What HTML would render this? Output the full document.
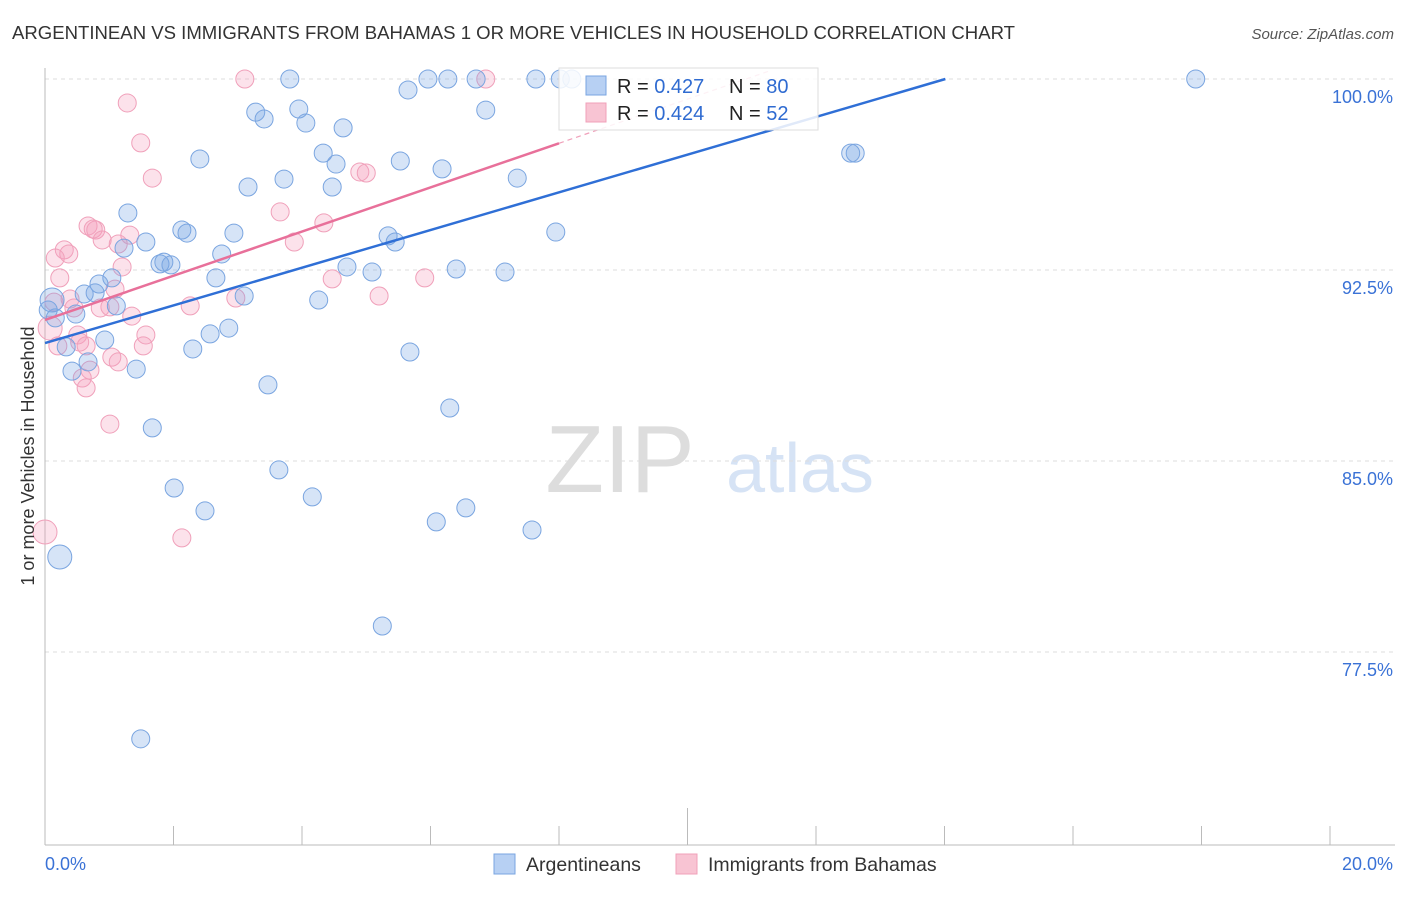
<!DOCTYPE html>
<html><head><meta charset="utf-8"><style>
body{margin:0;background:#fff;font-family:"Liberation Sans",sans-serif}
svg text{font-family:"Liberation Sans",sans-serif}
</style></head><body>
<svg id="c" width="1406" height="892" xmlns="http://www.w3.org/2000/svg">
<text x="12" y="39" font-size="18.5" textLength="1003" lengthAdjust="spacingAndGlyphs" fill="#333">ARGENTINEAN VS IMMIGRANTS FROM BAHAMAS 1 OR MORE VEHICLES IN HOUSEHOLD CORRELATION CHART</text>
<text x="1394" y="39" font-size="15" fill="#555" font-style="italic" text-anchor="end">Source: ZipAtlas.com</text>
<text x="620" y="492" font-size="96" fill="#ddd" font-family="Liberation Serif" text-anchor="middle">ZIP</text>
<text x="800" y="492" font-size="70" fill="#d6e3f5" text-anchor="middle">atlas</text>
<g id="grid"></g><g id="marks"></g><g id="lines"></g>
<text transform="translate(34,456) rotate(-90)" font-size="18" fill="#333" text-anchor="middle">1 or more Vehicles in Household</text>
<g>
<rect x="559" y="68" width="259" height="62" fill="#fff" fill-opacity="0.85" stroke="#ddd"/>
<rect x="586" y="76" width="20" height="19" fill="#b7d0f3" stroke="#7aa5e0"/>
<rect x="586" y="103" width="20" height="19" fill="#f8c4d3" stroke="#f0a0ba"/>
<text x="617" y="93" font-size="20" fill="#222">R = <tspan fill="#2f6bd1">0.427</tspan></text>
<text x="729" y="93" font-size="20" fill="#222">N = <tspan fill="#2f6bd1">80</tspan></text>
<text x="617" y="120" font-size="20" fill="#222">R = <tspan fill="#2f6bd1">0.424</tspan></text>
<text x="729" y="120" font-size="20" fill="#222">N = <tspan fill="#2f6bd1"> 52</tspan></text>
</g>
<g>
<rect x="494" y="854" width="21" height="20" fill="#b7d0f3" stroke="#7aa5e0"/>
<text x="526" y="871" font-size="19.5" fill="#333">Argentineans</text>
<rect x="676" y="854" width="21" height="20" fill="#f8c4d3" stroke="#f0a0ba"/>
<text x="708" y="871" font-size="19.5" fill="#333">Immigrants from Bahamas</text>
</g>
</svg>
<script>
const yTicks=[100,92.5,85,77.5];
const yTickLabels=["100.0%","92.5%","85.0%","77.5%"];
const xTicks=[0,2,4,6,8,10,12,14,16,18,20];
const blueX=[3.81,5.96,6.27,6.71,7.64,8.02,8.20,17.91,5.65,3.28,3.41,3.95,4.06,6.86,4.64,2.41,4.33,4.53,5.53,6.18,12.61,12.54,3.72,3.16,4.47,7.35,1.29,2.13,2.21,2.94,1.57,1.23,5.34,5.45,7.95,1.79,1.96,1.85,2.75,4.70,5.09,6.40,7.16,1.04,0.84,2.66,0.61,0.78,3.10,4.26,1.11,0.05,0.16,0.48,2.86,2.57,0.93,0.33,2.30,5.68,0.67,0.42,1.42,3.47,6.30,1.67,3.64,2.01,4.16,2.49,6.09,6.55,7.58,0.23,5.25,1.49,0.11];
const blueY=[100,100,100,100,100,100,100,100,99.57,98.70,98.43,98.82,98.27,98.78,98.08,96.86,97.09,96.66,96.78,96.47,97.09,97.09,96.07,95.76,95.76,96.11,94.74,94.07,93.95,93.95,93.60,93.36,93.84,93.60,93.99,92.74,92.70,92.81,93.13,92.62,92.42,92.54,92.42,92.19,91.95,92.19,91.56,91.60,91.48,91.32,91.09,90.93,90.62,90.77,90.22,89.99,89.75,89.48,89.40,89.28,88.89,88.53,88.61,87.99,87.08,86.30,84.65,83.94,83.59,83.04,82.61,83.16,82.29,81.23,78.52,74.09,91.32];
const pinkX=[3.11,6.86,1.28,1.49,1.67,4.90,5.00,3.66,4.34,0.67,0.79,0.75,0.30,0.37,0.16,0.89,1.14,1.32,3.88,0.23,1.20,0.14,0.39,0.45,0.86,1.01,1.09,2.97,2.26,4.47,5.20,5.91,1.35,1.57,0.51,0.54,0.20,0.64,1.53,1.04,1.14,0.70,0.58,0.64,1.01,2.13,0.00,0.08];
const pinkY=[100,100,99.06,97.49,96.11,96.35,96.31,94.78,94.35,94.23,94.07,94.11,93.29,93.13,92.97,93.68,93.52,93.87,93.60,92.19,92.62,91.24,91.36,91.01,91.01,91.05,91.75,91.40,91.09,92.15,91.48,92.19,90.69,89.95,89.95,89.67,89.52,89.52,89.52,89.08,88.89,88.57,88.26,87.87,86.45,81.98,82.21,90.22];
const blueTrend=[89.63,0.740];
const pinkTrend=[90.54,0.867];
const X=v=>45+v*64.25, Y=v=>79+(100-v)*191/7.5;
const NS="http://www.w3.org/2000/svg";
function mk(t,a,p){const e=document.createElementNS(NS,t);for(const k in a)e.setAttribute(k,a[k]);p.appendChild(e);return e;}
const g=document.getElementById('grid');
yTicks.forEach((t,i)=>{
 const l=mk('line',{x1:45,x2:1395,y1:Y(t),y2:Y(t),stroke:'#ddd','stroke-dasharray':'4,4'},g);
 
 
 const tx=mk('text',{x:1393,y:Y(t)+24,'font-size':18,fill:'#3a72d6','text-anchor':'end'},g);
 tx.textContent=yTickLabels[i];
 
 
});
mk('line',{x1:45,x2:45,y1:68,y2:845,stroke:'#bbb'},g);
mk('line',{x1:45,x2:1395,y1:845,y2:845,stroke:'#bbb'},g);
xTicks.forEach(t=>{
 const l=mk('line',{x1:X(t),x2:X(t),y1:t==10?808:826,y2:845,stroke:'#bbb'},g);
 
 
});
const x0=mk('text',{x:45,y:870,'font-size':18,fill:'#3a72d6'},g);x0.textContent="0.0%";


const x1=mk('text',{x:1393,y:870,'font-size':18,fill:'#3a72d6','text-anchor':'end'},g);x1.textContent="20.0%";


const m=document.getElementById('marks');
function pts(xs,ys,fill,stroke,name){xs.forEach((x,i)=>{
 const big=(name=='blue-point'&&(i==73||i==76))||(name=='pink-point'&&(i==46||i==47));
 const c=mk('circle',{cx:X(x),cy:Y(ys[i]),r:big?12:9,fill:fill,stroke:stroke,'stroke-width':1},m);
 
 
});}
pts(pinkX,pinkY,'rgba(244,160,188,0.3)','#f0a0ba','pink-point');
pts(blueX,blueY,'rgba(120,165,230,0.3)','#7aa5e0','blue-point');
const L=document.getElementById('lines');
const bEnd=(100-blueTrend[0])/blueTrend[1];
const bl=mk('line',{x1:X(0),y1:Y(blueTrend[0]),x2:X(bEnd),y2:Y(100),stroke:'#2f6fd6','stroke-width':2.5},L);


const pl=mk('line',{x1:X(0),y1:Y(pinkTrend[0]),x2:X(8),y2:Y(pinkTrend[0]+8*pinkTrend[1]),stroke:'#e8709a','stroke-width':2.5},L);


const pd=mk('line',{x1:X(8),y1:Y(pinkTrend[0]+8*pinkTrend[1]),x2:X(11.3),y2:Y(pinkTrend[0]+11.3*pinkTrend[1]),stroke:'#f0a0ba','stroke-width':1.2,'stroke-dasharray':'5,4'},L);


</script>
</body></html>
